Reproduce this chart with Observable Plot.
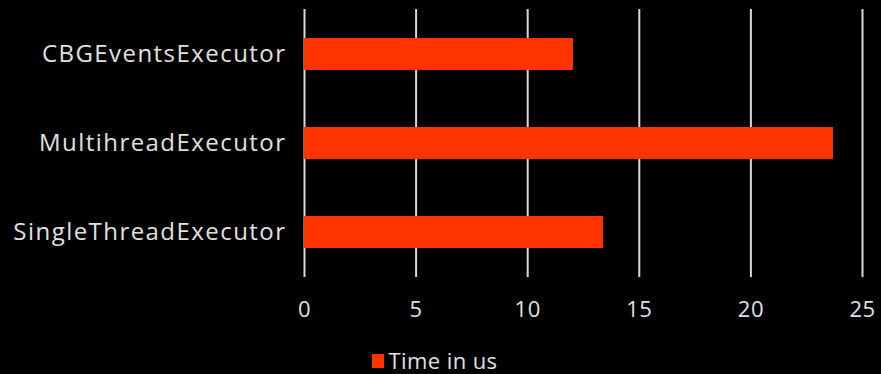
<!DOCTYPE html>
<html>
<head>
<meta charset="utf-8">
<script src="https://cdn.jsdelivr.net/npm/d3@7"></script>
<script src="https://cdn.jsdelivr.net/npm/@observablehq/plot@0.6"></script>
<style>
  html, body { margin: 0; padding: 0; background: #000; }
  body { position: relative; width: 881px; height: 374px; overflow: hidden; font-family: "Open Sans", sans-serif; }
  #chart svg { display: block; }
  .exec-chart g[aria-label="y-axis tick label"] text { letter-spacing: 1.45px; }
  .exec-chart g[aria-label="x-axis tick label"] text { letter-spacing: 0.5px; }
  .legend { position: absolute; left: 0; top: 346px; width: 881px; height: 28px; line-height: 28px;
            display: flex; align-items: center; justify-content: center;
            color: #e0e0e0; font-size: 22px; letter-spacing: 0.4px; padding-right: 12px; box-sizing: border-box; }
  .legend .swatch { width: 12px; height: 14px; background: #ff3300; margin-right: 5px; margin-top: 2px; }
</style>
</head>
<body>
<div id="chart"></div>
<div class="legend"><span class="swatch"></span><span id="series-name"></span></div>
<script>
// Executor benchmark: average time per task
const executors = ["CBGEventsExecutor", "MultihreadExecutor", "SingleThreadExecutor"];
const timeUs = [12.05, 23.7, 13.4];
const xTicks = [0, 5, 10, 15, 20, 25];
const seriesName = "Time in us";

const rows = executors.map((name, i) => ({name, time: timeUs[i]}));
const ink = "#e0e0e0";
const barColor = "#ff3300";

document.getElementById("series-name").textContent = seriesName;

const chart = Plot.plot({
  className: "exec-chart",
  width: 881,
  height: 340,
  marginLeft: 304,
  marginRight: 19,
  marginTop: 9,
  marginBottom: 63,
  style: {background: "#000", color: ink, fontFamily: "'Open Sans', sans-serif", fontSize: "22px"},
  x: {domain: [0, 25], ticks: xTicks, label: null},
  y: {domain: executors, paddingInner: 0.64, paddingOuter: 0.32, label: null},
  marks: [
    Plot.ruleX(xTicks, {stroke: "#d9d9d9", strokeWidth: 2}),
    Plot.barX(rows, {y: "name", x: "time", fill: barColor}),
    Plot.axisX({ticks: xTicks, tickSize: 0, tickPadding: 24, label: null, fontSize: 22}),
    Plot.axisY({tickSize: 0, tickPadding: 18, label: null, fontSize: 24})
  ]
});
document.getElementById("chart").append(chart);
</script>
</body>
</html>
